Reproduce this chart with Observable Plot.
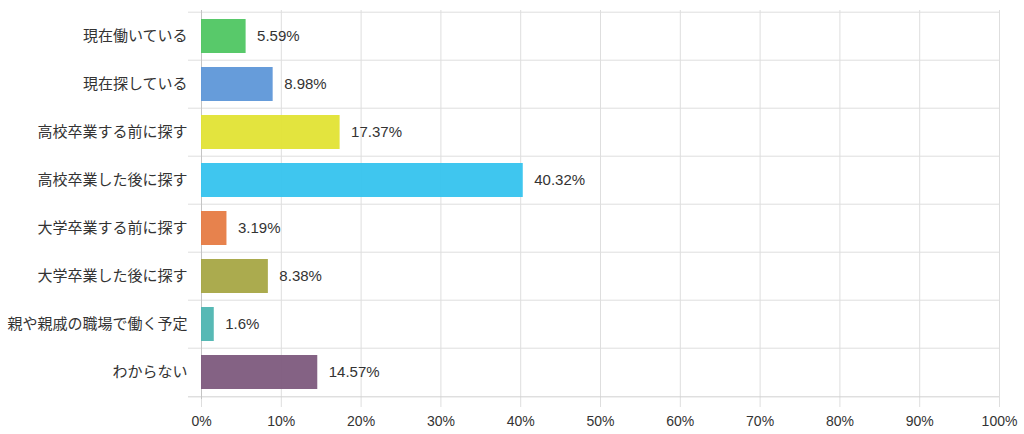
<!DOCTYPE html>
<html>
<head>
<meta charset="utf-8">
<script src="https://cdn.jsdelivr.net/npm/d3@7"></script>
<script src="https://cdn.jsdelivr.net/npm/@observablehq/plot@0.6"></script>
<style>
html, body { margin: 0; padding: 0; background: #fff; }
</style>
</head>
<body>
<div id="chart"></div>
<script>
const categories = ["現在働いている", "現在探している", "高校卒業する前に探す", "高校卒業した後に探す", "大学卒業する前に探す", "大学卒業した後に探す", "親や親戚の職場で働く予定", "わからない"];
const values = [5.59, 8.98, 17.37, 40.32, 3.19, 8.38, 1.6, 14.57];
const valueLabels = ["5.59%", "8.98%", "17.37%", "40.32%", "3.19%", "8.38%", "1.6%", "14.57%"];
const colors = ["#4fc662", "#5e97d8", "#e1e334", "#35c3ee", "#e67b43", "#a7a644", "#4eb5b1", "#7d5a7d"];
const xTicks = [0, 10, 20, 30, 40, 50, 60, 70, 80, 90, 100];

const data = categories.map((c, i) => ({category: c, value: values[i], label: valueLabels[i], color: colors[i]}));

const W = 1024, H = 434, mT = 10, mB = 35, mL = 201, mR = 25;
const step = (H - mT - mB) / categories.length;
const pad = 0.29;

const chart = Plot.plot({
  width: W,
  height: H,
  marginTop: mT,
  marginBottom: mB,
  marginLeft: mL,
  marginRight: mR,
  style: {fontFamily: "'Liberation Sans', Arial, 'Noto Sans CJK JP', sans-serif", background: "#fff", color: "#333"},
  x: {domain: [0, 100], axis: null},
  y: {type: "band", domain: categories, paddingInner: pad, paddingOuter: pad / 2, axis: null},
  marks: [
    Plot.ruleX(xTicks, {stroke: "#dedede"}),
    Plot.ruleY(categories, {y: d => d, dy: -step / 2, stroke: "#dedede", insetLeft: -13}),
    Plot.ruleY([categories[categories.length - 1]], {y: d => d, dy: step / 2, stroke: "#d0d0d0", insetLeft: -13}),
    Plot.ruleX([0], {stroke: "#c4c4c4"}),
    Plot.barX(data, {x: "value", y: "category", fill: "color", fillOpacity: 0.95}),
    Plot.text(data, {x: "value", y: "category", text: "label", dx: 11, textAnchor: "start", fontSize: 15, fill: "#333"}),
    Plot.axisX({ticks: xTicks, tickFormat: d => d + "%", tickSize: 8, tickPadding: 9, stroke: "#dedede", fill: "#333", fontSize: 14, label: null}),
    Plot.axisY({tickSize: 0, tickPadding: 14, fontSize: 15, fill: "#333", label: null})
  ]
});
document.getElementById("chart").appendChild(chart);
</script>
</body>
</html>
